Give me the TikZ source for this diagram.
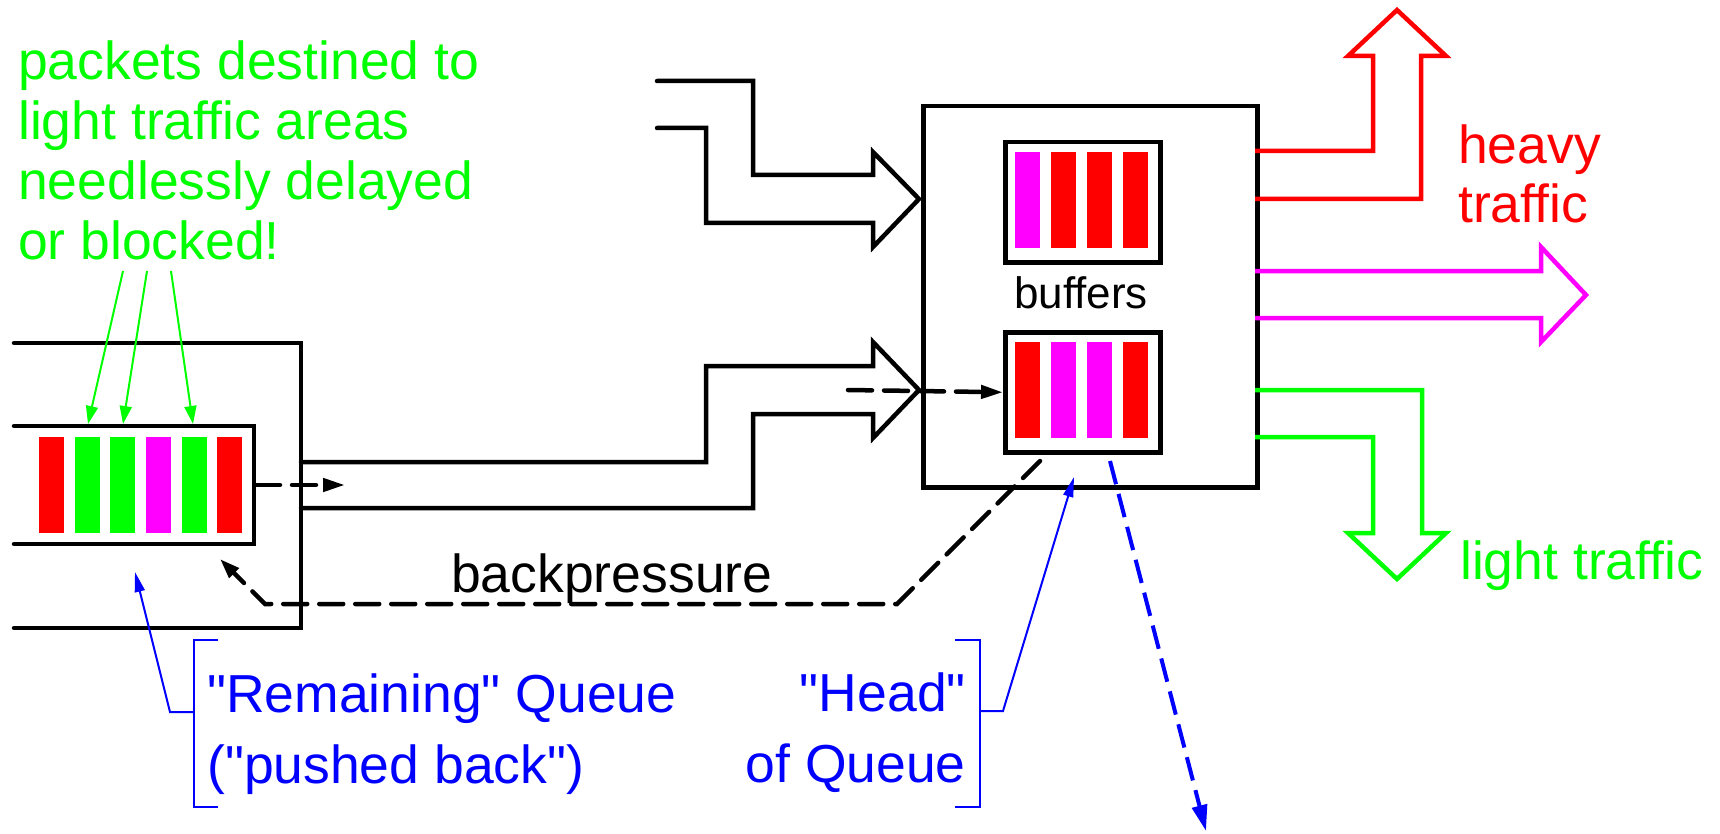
\documentclass[tikz,border=0pt]{standalone}
\usepackage{fontspec}
\setmainfont{Liberation Sans}[Ligatures=TeXOff]
\usetikzlibrary{arrows.meta}
\definecolor{cR}{RGB}{255,0,0}
\definecolor{cG}{RGB}{0,255,0}
\definecolor{cM}{RGB}{255,0,255}
\definecolor{cB}{RGB}{0,0,255}
\begin{document}
\begin{tikzpicture}[x=1pt,y=-1pt,
  blk/.style={line width=4.5pt, line cap=round},
  dsh/.style={line width=4.5pt, line cap=round, dash pattern=on 24pt off 12pt},
  boxnode/.style={draw, line width=4.5pt, inner sep=0pt, anchor=north west},
  big/.style={font=\fontsize{53.5}{60}\selectfont, inner sep=0pt},
  thin/.style={line width=2pt},
  outarrow/.style={line width=4.5pt},
  btip/.style={-{Triangle[length=22pt,width=13pt]}},
  gtip/.style={-{Triangle[length=18pt,width=12pt]}},
  bltip/.style={-{Triangle[length=20pt,width=10pt]}},
]
\useasboundingbox (0,0) rectangle (1720,834);

% ---------- green caption ----------
\node[big, text=cG, anchor=base west] (g1) at (18,80) {packets destined to};
\node[big, text=cG, anchor=base west] (g2) at (18,140) {light traffic areas};
\node[big, text=cG, anchor=base west] (g3) at (18,200) {needlessly delayed};
\node[big, text=cG, anchor=base west] (g4) at (18,259) {or blocked!};

% ---------- left channel and queue ----------
\draw[blk] (14,343) -- (301,343) -- (301,628) -- (14,628);
\draw[blk] (14,426) -- (254,426) -- (254,544) -- (14,544);
\foreach \x/\c in {39/cR,75/cG,110/cG,146/cM,182/cG,217/cR}
  \fill[\c] (\x,437) rectangle ++(25,96);

% green pointers
\coordinate (ga1) at (123,271); \coordinate (qa1) at (88,424);
\coordinate (ga2) at (147,271); \coordinate (qa2) at (123,424);
\coordinate (ga3) at (171,271); \coordinate (qa3) at (193,424);
\draw[cG, thin, gtip] (ga1) -- (qa1);
\draw[cG, thin, gtip] (ga2) -- (qa2);
\draw[cG, thin, gtip] (ga3) -- (qa3);

% queue exit dashed arrow
\coordinate (qout) at (256,485);
\coordinate (qend) at (345,485);
\draw[dsh, btip] (qout) -- (qend);

% ---------- input arrows ----------
\draw[blk] (657,81) -- (753,81) -- (753,175) -- (873,175) -- (873,152) -- (919,199)
  -- (873,247) -- (873,223) -- (706,223) -- (706,128) -- (657,128);
\draw[blk] (301,462) -- (706,462) -- (706,366) -- (873,366) -- (873,342) -- (919,390)
  -- (873,438) -- (873,414) -- (753,414) -- (753,508) -- (301,508);

% ---------- switch and buffers ----------
\node[boxnode, minimum width=334pt, minimum height=381pt] (sw) at (921,104) {};
\node[boxnode, minimum width=155pt, minimum height=120pt] (ub) at (1003,140) {};
\node[boxnode, minimum width=155pt, minimum height=120pt] (lb) at (1003,330) {};
\foreach \x/\c in {1015/cM,1051/cR,1087/cR,1123/cR}
  \fill[\c] (\x,152) rectangle ++(25,96);
\foreach \x/\c in {1015/cR,1051/cM,1087/cM,1123/cR}
  \fill[\c] (\x,342) rectangle ++(25,96);
\node[font=\fontsize{44}{50}\selectfont, inner sep=0pt, anchor=base] (bufl) at (1081,308) {buffers};

\coordinate (din) at (848,390);
\draw[dsh, btip] (din) -- (lb.west);

% ---------- backpressure ----------
\coordinate (bp0) at (1040,461);
\coordinate (bp1) at (897,604);
\coordinate (bp2) at (265,604);
\coordinate (bp3) at (220,559);
\draw[dsh, -{Triangle[length=20pt,width=13pt]}] (bp0) -- (bp1) -- (bp2) -- (bp3);
\node[big, anchor=base west] (bpl) at (451,592) {backpressure};

% ---------- output arrows ----------
\draw[cR, outarrow] (1255,151) -- (1373,151) -- (1373,56) -- (1348,56) -- (1397,10)
  -- (1446,56) -- (1421,56) -- (1421,199) -- (1255,199);
\draw[cM, outarrow] (1255,271) -- (1541,271) -- (1541,247) -- (1586,295)
  -- (1541,342) -- (1541,318) -- (1255,318);
\draw[cG, outarrow] (1255,390) -- (1422,390) -- (1422,533) -- (1446,533) -- (1397,579)
  -- (1348,533) -- (1373,533) -- (1373,437) -- (1255,437);
\node[big, text=cR, anchor=base west] (hv1) at (1458,164) {heavy};
\node[big, text=cR, anchor=base west] (hv2) at (1458,223) {traffic};
\node[big, text=cG, anchor=base west] (lt) at (1460,579) {light traffic};

% ---------- blue annotations ----------
\draw[cB, thin] (218,640) -- (194,640) -- (194,807) -- (218,807);
\coordinate (lbm) at (194,712);
\coordinate (lbk) at (170,712);
\coordinate (lbt) at (135,572);
\draw[cB, thin, bltip] (lbm) -- (lbk) -- (lbt);
\node[big, text=cB, anchor=base west] (rq1) at (207,712) {"Remaining" Queue};
\node[big, text=cB, anchor=base west] (rq2) at (207,783) {("pushed back")};

\draw[cB, thin] (955,640) -- (980,640) -- (980,807) -- (955,807);
\coordinate (rbm) at (980,711);
\coordinate (rbk) at (1003,711);
\coordinate (rbt) at (1074,477);
\draw[cB, thin, bltip] (rbm) -- (rbk) -- (rbt);
\node[big, text=cB, anchor=base east] (hq1) at (966,711) {"Head"};
\node[big, text=cB, anchor=base east] (hq2) at (966,782) {of Queue};

\coordinate (hs) at (1110,461);
\coordinate (he) at (1206,831);
\draw[cB, line width=4pt, dash pattern=on 24pt off 10pt,
  -{Triangle[length=26pt,width=15pt]}] (hs) -- (he);
\end{tikzpicture}
\end{document}
